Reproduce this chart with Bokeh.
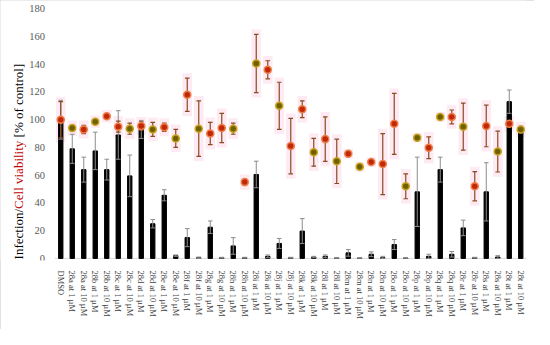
import numpy as np
from bokeh.plotting import figure
from bokeh.models import Range1d, FixedTicker
from bokeh.core.properties import value
from bokeh.embed import file_html
from bokeh.resources import INLINE

labels = ["DMSO",
          "28a at 1 µM", "28a at 10 µM", "28b at 1 µM", "28b at 10 µM",
          "28c at 1 µM", "28c at 10 µM", "28d at 1 µM", "28d at 10 µM",
          "28e at 1 µM", "28e at 10 µM", "28f at 1 µM", "28f at 10 µM",
          "28g at 1 µM", "28g at 10 µM", "28h at 1 µM", "28h at 10 µM",
          "28i at 1 µM", "28i at 10 µM", "28j at 1 µM", "28j at 10 µM",
          "28k at 1 µM", "28k at 10 µM", "28l at 1 µM", "28l at 10 µM",
          "28m at 1 µM", "28m at 10 µM", "28n at 1 µM", "28n at 10 µM",
          "28o at 1 µM", "28o at 10 µM", "28p at 1 µM", "28p at 10 µM",
          "28q at 1 µM", "28q at 10 µM", "28r at 1 µM", "28r at 10 µM",
          "28s at 1 µM", "28s at 10 µM", "28t at 1 µM", "28t at 10 µM"]

infection = [100, 79, 64, 77.5, 64, 89, 59.5, 93, 25, 45.5,
             2, 15, 0.5, 22.5, 0.5, 9, 0.5, 60.5, 1.5, 10.8,
             0.5, 19.7, 1, 1.5, 0.3, 4, 0.3, 3, 0.5, 10,
             0.3, 48, 1.5, 64, 3, 22, 0.5, 48, 1, 113, 93]
infection_err = [14, 10.5, 9, 13.5, 7.5, 17.5, 15, 6.5, 3, 4,
                 0.5, 6.5, 0.5, 4.5, 0.3, 6, 0.3, 9.6, 1, 3.6,
                 0.3, 9, 0.5, 1, 0.2, 2.4, 0.2, 1.7, 1, 3.6,
                 0.2, 25, 1.5, 9, 2, 5.6, 0.3, 21, 1, 8.4, 2.4]
viability = [100, 94, 93, 98.5, 102.5, 95, 93.5, 95.5, 93, 94.5,
             86.5, 118, 93.5, 90, 94, 93.5, 55, 140.5, 136, 110,
             81, 107.5, 76.5, 86, 70, 75.5, 66, 69.5, 68, 97,
             52, 87, 79.8, 102, 102, 95, 52, 95.5, 77, 97, 93]
viability_err = [13, 2, 3, 1, 1, 4, 4, 3, 5, 3,
                 6.5, 12, 20, 8, 10.5, 4, 2, 21, 6.5, 17,
                 20, 6, 10, 16, 16, 0, 0, 0, 22, 22,
                 9, 0, 7.8, 0, 5, 17, 10.5, 15, 14.7, 2, 2]
y_ticks = [0, 20, 40, 60, 80, 100, 120, 140, 160, 180]
title_parts = ["Infection/", "Cell viability", "[% of control]"]

# style: marker colour per point (1 = red, 0 = olive), title part colours
marker_style = [1, 0, 1, 0, 1, 1, 0, 1, 0, 1, 0, 1, 0, 1, 1, 0, 1, 0, 1, 0, 1,
                1, 0, 1, 0, 1, 0, 1, 1, 1, 0, 0, 1, 0, 1, 0, 1, 1, 0, 1, 0]
title_colors = ["black", "#c00000", "black"]
title_offsets_px = [0, 50.5, 122.0]

n = len(labels)
x = np.arange(n, dtype=float)
inf = np.array(infection, dtype=float)
inf_e = np.array(infection_err, dtype=float)
via = np.array(viability, dtype=float)
via_e = np.array(viability_err, dtype=float)

W, H = 534, 329
border_right, border_bottom = 8, 69
px_per_x = 11.5
px_per_y = 1.3872
frame_w = W - border_right
frame_h = H - border_bottom
x_end = n - 0.5
x_start = x_end - frame_w / px_per_x
y_start = -1.5
y_end = y_start + frame_h / px_per_y

p = figure(width=W, height=H, output_backend="svg", toolbar_location=None,
           x_range=Range1d(x_start, x_end), y_range=Range1d(y_start, y_end),
           min_border_left=0, min_border_right=border_right, min_border_top=0,
           min_border_bottom=border_bottom)
p.outline_line_color = None
p.xgrid.visible = False
p.ygrid.visible = False
p.yaxis.visible = False
p.background_fill_color = "white"
p.styles = {"outline": "1px solid #d9d9d9", "outline-offset": "-1px"}

# pale pink glow around viability markers
p.quad(left=x - 0.42, right=x + 0.42, bottom=via - via_e - 3.5, top=via + via_e + 3.5,
       fill_color="#fdeaf3", line_color=None)

# x axis baseline
p.segment(x0=[-0.5], y0=[0], x1=[x_end], y1=[0], line_color="#d9d9d9", line_width=1)

# infection bars
p.vbar(x=x, top=inf, width=0.38, bottom=0, fill_color="black", line_color="black")
inf_lo = np.maximum(inf - inf_e, 0)
inf_hi = inf + inf_e
p.segment(x0=x, y0=inf_lo, x1=x, y1=inf_hi, line_color="#8c8c8c", line_width=1)
p.segment(x0=x - 0.2, y0=inf_hi, x1=x + 0.2, y1=inf_hi, line_color="#8c8c8c", line_width=1)
p.segment(x0=x - 0.2, y0=inf_lo, x1=x + 0.2, y1=inf_lo, line_color="#8c8c8c", line_width=1)

# viability error bars
v_lo = via - via_e
v_hi = via + via_e
ecol = "#8b4a22"
p.segment(x0=x, y0=v_lo, x1=x, y1=v_hi, line_color=ecol, line_width=1.2)
p.segment(x0=x - 0.2, y0=v_hi, x1=x + 0.2, y1=v_hi, line_color=ecol, line_width=1.2)
p.segment(x0=x - 0.2, y0=v_lo, x1=x + 0.2, y1=v_lo, line_color=ecol, line_width=1.2)

fills = ["#c0280a" if s else "#6e6100" for s in marker_style]
lines = ["#f07c45" if s else "#c9a21a" for s in marker_style]
p.scatter(x=x, y=via, size=7, fill_color=fills, line_color=lines, line_width=1.5)

# y tick labels
p.text(x=[-0.5 - 10 / px_per_x] * len(y_ticks), y=y_ticks, text=[str(t) for t in y_ticks],
       text_align="right", text_baseline="middle", text_font=value("Liberation Serif"),
       text_font_size="10.5px", text_color="#595959")

# two-coloured y-axis title
tx = -0.5 - 37.0 / px_per_x
p.text(x=[tx] * 3, y=[(-1 + o) / px_per_y for o in title_offsets_px], text=title_parts,
       angle=np.pi / 2, text_align="left", text_baseline="middle",
       text_font=value("Liberation Serif"), text_font_size="13px", text_color=title_colors)

# x axis labels
p.xaxis.ticker = FixedTicker(ticks=list(range(n)))
p.xaxis.major_label_overrides = {i: lab for i, lab in enumerate(labels)}
p.xaxis.major_label_orientation = "vertical"
p.xaxis.major_label_text_font = "Liberation Serif"
p.xaxis.major_label_text_font_size = "8.5px"
p.xaxis.major_label_text_color = "#404040"
p.xaxis.major_tick_line_color = None
p.xaxis.minor_tick_line_color = None
p.xaxis.axis_line_color = None
p.xaxis.major_label_standoff = 4

open("out.html", "w").write(file_html(p, INLINE))
